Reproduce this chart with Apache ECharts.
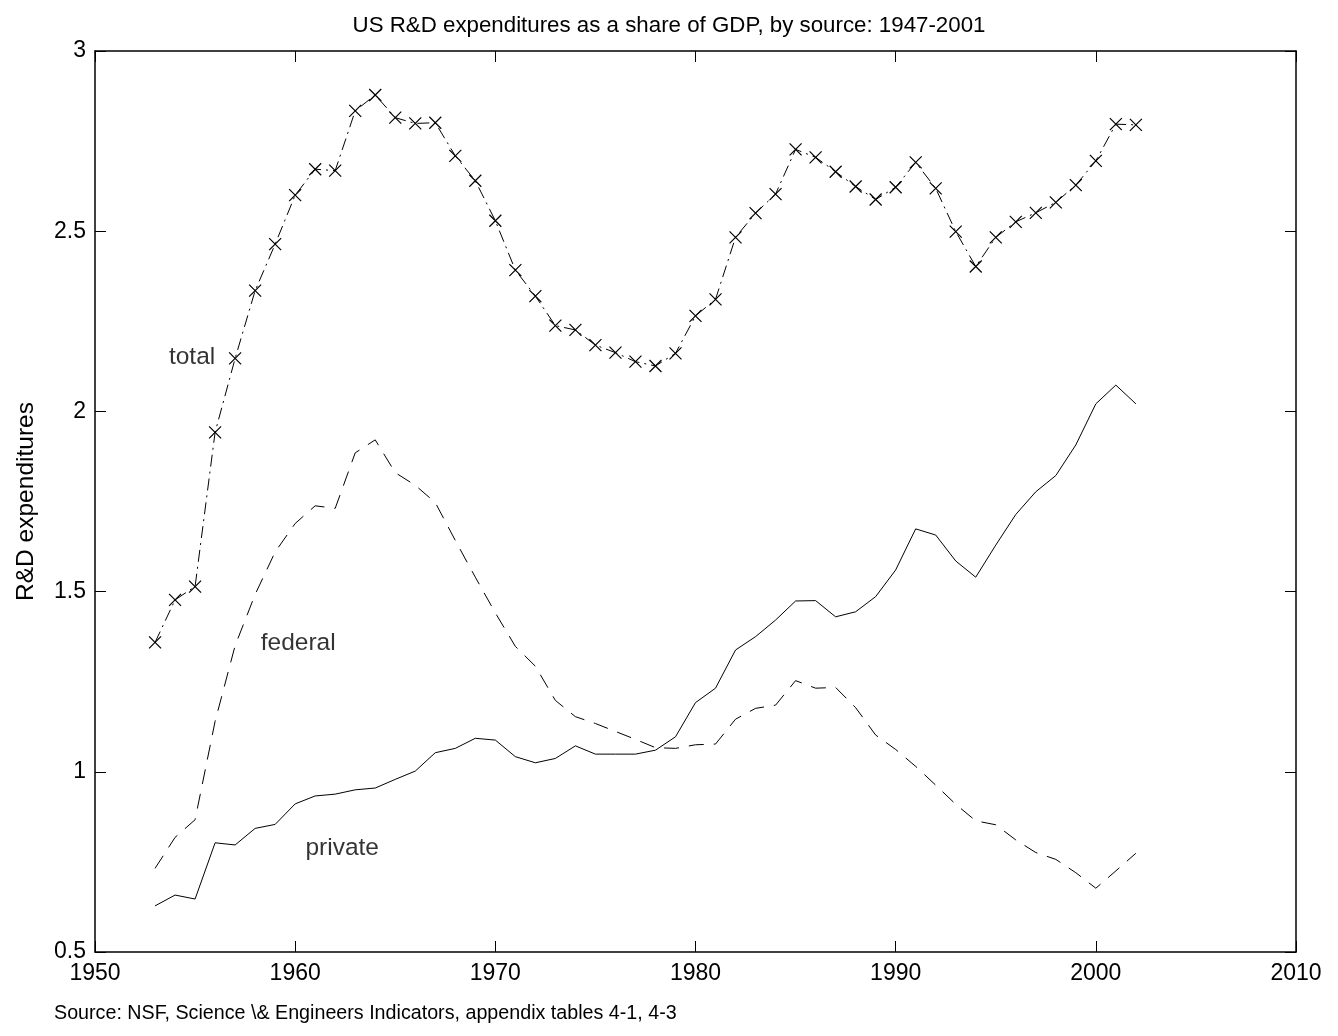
<!DOCTYPE html>
<html>
<head>
<meta charset="utf-8">
<script src="https://cdn.jsdelivr.net/npm/echarts@6/dist/echarts.min.js"></script>
<style>
html,body{margin:0;padding:0;background:#fff;}
#chart{width:1338px;height:1036px;}
</style>
</head>
<body>
<div id="chart"></div>
<script>
const years = [1953,1954,1955,1956,1957,1958,1959,1960,1961,1962,1963,1964,1965,1966,1967,1968,1969,1970,1971,1972,1973,1974,1975,1976,1977,1978,1979,1980,1981,1982,1983,1984,1985,1986,1987,1988,1989,1990,1991,1992,1993,1994,1995,1996,1997,1998,1999,2000,2001,2002];
const total = [1.359,1.477,1.514,1.942,2.147,2.335,2.464,2.600,2.672,2.668,2.834,2.878,2.815,2.799,2.801,2.709,2.640,2.529,2.392,2.320,2.238,2.226,2.184,2.163,2.138,2.126,2.161,2.265,2.311,2.483,2.550,2.603,2.727,2.705,2.665,2.624,2.588,2.622,2.691,2.619,2.499,2.402,2.483,2.526,2.551,2.580,2.628,2.695,2.797,2.795];
const federal = [0.732,0.818,0.867,1.140,1.350,1.492,1.610,1.689,1.738,1.731,1.885,1.921,1.830,1.795,1.747,1.642,1.540,1.441,1.348,1.293,1.198,1.153,1.134,1.112,1.090,1.067,1.065,1.075,1.077,1.146,1.176,1.185,1.253,1.232,1.234,1.178,1.102,1.062,1.015,0.963,0.910,0.864,0.853,0.811,0.776,0.757,0.720,0.677,0.725,0.774];
const privateSrc = [0.628,0.658,0.647,0.803,0.797,0.843,0.854,0.911,0.933,0.938,0.950,0.955,0.979,1.002,1.053,1.065,1.093,1.088,1.042,1.025,1.037,1.072,1.049,1.049,1.049,1.060,1.097,1.192,1.232,1.338,1.375,1.421,1.474,1.475,1.430,1.444,1.486,1.560,1.674,1.657,1.585,1.540,1.629,1.714,1.777,1.822,1.907,2.021,2.073,2.021];
const xTicks = [1950,1960,1970,1980,1990,2000,2010];
const yTicks = [0.5,1,1.5,2,2.5,3];
const annotations = [
  {year:1954.85, value:2.150, text:'total'},
  {year:1960.15, value:1.357, text:'federal'},
  {year:1962.35, value:0.789, text:'private'}
];
const titleText = 'US R&D expenditures as a share of GDP, by source: 1947-2001';
const yName = 'R&D expenditures';
const sourceText = 'Source: NSF, Science \\& Engineers Indicators, appendix tables 4-1, 4-3';

const FONT = "'Liberation Sans', Arial, Helvetica, sans-serif";

const pair = arr => years.map((y,i)=>[y, arr[i]]);

const chart = echarts.init(document.getElementById('chart'), null, {renderer:'canvas'});
const axisCommon = {
  axisLine:{show:true, lineStyle:{color:'#000', width:1.5}},
  axisTick:{show:true, inside:true, length:11, lineStyle:{color:'#000', width:1}},
  splitLine:{show:false}
};
chart.setOption({
  animation:false,
  backgroundColor:'#fff',
  title:[
    {text:titleText, left:'center', top:10, textStyle:{fontFamily:FONT, fontSize:22.3, fontWeight:'normal', color:'#000'}},
    {text:sourceText, left:49, top:999, textStyle:{fontFamily:FONT, fontSize:19.7, fontWeight:'normal', color:'#000'}}
  ],
  grid:{left:95, right:42, top:51, bottom:84, containLabel:false},
  xAxis:[
    Object.assign({type:'value', min:xTicks[0], max:xTicks[xTicks.length-1], interval:10, position:'bottom',
      axisLabel:{show:true, margin:10, fontFamily:FONT, fontSize:23, color:'#000', formatter:v=>String(v)}}, axisCommon),
    Object.assign({type:'value', min:xTicks[0], max:xTicks[xTicks.length-1], interval:10, position:'top',
      axisLabel:{show:false}}, axisCommon)
  ],
  yAxis:[
    Object.assign({type:'value', min:yTicks[0], max:yTicks[yTicks.length-1], interval:0.5, position:'left',
      name:yName, nameLocation:'middle', nameGap:56, nameRotate:90,
      nameTextStyle:{fontFamily:FONT, fontSize:24.5, color:'#000'},
      axisLabel:{show:true, margin:9, fontFamily:FONT, fontSize:23, color:'#000', formatter:v=>String(v)}}, axisCommon),
    Object.assign({type:'value', min:yTicks[0], max:yTicks[yTicks.length-1], interval:0.5, position:'right',
      axisLabel:{show:false}}, axisCommon)
  ],
  series:[
    {name:'total', type:'line', data:pair(total), xAxisIndex:0, yAxisIndex:0,
     symbol:'path://M0,0L10,10M10,0L0,10', symbolSize:12, showSymbol:true,
     itemStyle:{color:'rgba(0,0,0,0)', borderColor:'#000', borderWidth:1.2, borderType:'solid'},
     lineStyle:{color:'#000', width:1, type:[12,5,2,5]}, emphasis:{disabled:true}, silent:true, z:3},
    {name:'federal', type:'line', data:pair(federal), symbol:'none',
     lineStyle:{color:'#000', width:1, type:[15,10]}, emphasis:{disabled:true}, silent:true},
    {name:'private', type:'line', data:pair(privateSrc), symbol:'none',
     lineStyle:{color:'#000', width:1, type:'solid'}, emphasis:{disabled:true}, silent:true},
    {name:'labels', type:'scatter', symbolSize:1, itemStyle:{color:'rgba(0,0,0,0)'},
     data:annotations.map(a=>({value:[a.year,a.value], name:a.text})),
     label:{show:true, position:'inside', formatter:p=>p.name, fontFamily:FONT, fontSize:24.5, color:'#000', textBorderWidth:0},
     emphasis:{disabled:true}, silent:true}
  ]
});
</script>
</body>
</html>
